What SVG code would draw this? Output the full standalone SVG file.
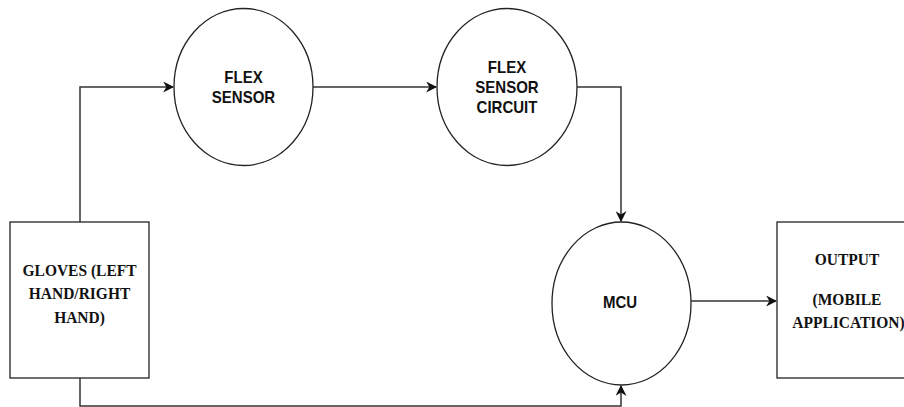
<svg xmlns="http://www.w3.org/2000/svg" width="904" height="407" viewBox="0 0 904 407">
<defs>
<marker id="arr" viewBox="0 0 10 10" refX="9" refY="5" markerWidth="11" markerHeight="11" markerUnits="userSpaceOnUse" orient="auto">
<path d="M0,0 L10,5 L0,10 L3,5 Z" fill="#111"/>
</marker>
</defs>
<style>
.shape{fill:#fff;stroke:#222;stroke-width:1.3}
.edge{fill:none;stroke:#333;stroke-width:1.5;marker-end:url(#arr)}
.sans{font-family:"Liberation Sans",Arial,sans-serif;font-weight:bold;font-size:15px;fill:#111;text-anchor:middle}
.serif{font-family:"Liberation Serif","Times New Roman",serif;font-weight:bold;font-size:15.5px;fill:#111;text-anchor:middle}
</style>
<rect width="904" height="407" fill="#fff"/>
<g id="connectors">
<path class="edge" d="M80,222 V87 H173"/>
<path class="edge" d="M313,87 H436"/>
<path class="edge" d="M577,87 H621 V221"/>
<path class="edge" d="M80,378 V406 H621 V386"/>
<path class="edge" d="M691,301 H776"/>
</g>
<g id="gloves">
<rect class="shape" x="10" y="222" width="139" height="156"/>
<g transform="translate(79.5,0) scale(1,1.13)">
<text class="serif" x="0" y="244.2">GLOVES (LEFT</text>
<text class="serif" x="0" y="265">HAND/RIGHT</text>
<text class="serif" x="0" y="285.8">HAND)</text>
</g>
</g>
<g id="flex-sensor">
<ellipse class="shape" cx="243.5" cy="87" rx="69.5" ry="78.5"/>
<g transform="translate(243.5,0) scale(1,1.13)">
<text class="sans" x="0" y="73.7">FLEX</text>
<text class="sans" x="0" y="90.9">SENSOR</text>
</g>
</g>
<g id="flex-sensor-circuit">
<ellipse class="shape" cx="507" cy="87" rx="70" ry="78.5"/>
<g transform="translate(507,0) scale(1,1.13)">
<text class="sans" x="0" y="64.9">FLEX</text>
<text class="sans" x="0" y="82.6">SENSOR</text>
<text class="sans" x="0" y="100.3">CIRCUIT</text>
</g>
</g>
<g id="mcu">
<ellipse class="shape" cx="621.5" cy="303.5" rx="69.5" ry="81.5"/>
<g transform="translate(620,0) scale(1,1.13)">
<text class="sans" x="0" y="273">MCU</text>
</g>
</g>
<g id="output">
<rect class="shape" x="777" y="222" width="140" height="156"/>
<g transform="translate(847,0) scale(1,1.13)">
<text class="serif" x="0" y="234.5">OUTPUT</text>
<text class="serif" x="0" y="269.9">(MOBILE</text>
<text class="serif" x="1.5" y="290.3">APPLICATION)</text>
</g>
</g>
</svg>
